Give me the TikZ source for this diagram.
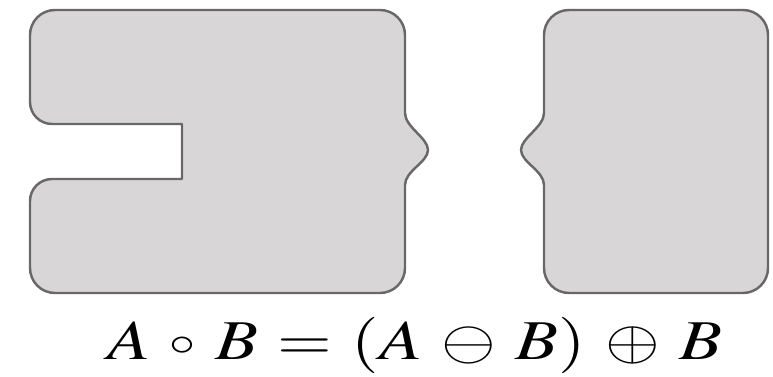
\documentclass[tikz,border=0pt]{standalone}
\usepackage{mathptmx}
\usepackage{tikz}
\usetikzlibrary{positioning}
\definecolor{platefill}{HTML}{D9D6D8}
\definecolor{plateline}{HTML}{686868}

\begin{document}
\begin{tikzpicture}[x=0.02cm, y=0.02cm, every node/.style={font=\fontsize{32}{38}\selectfont}]
\tikzstyle{plate}=[draw=plateline, fill=platefill, line width=1.4pt, line join=round]
\useasboundingbox (0,0) rectangle (773,-377);
% opened set with notch and bump
\draw[plate] (55,-10) -- (380,-10) arc[start angle=90, end angle=0, radius=25]
  -- (405,-113) .. controls (405,-127) and (428,-138) .. (428,-150)
  .. controls (428,-162) and (405,-171) .. (405,-185)
  -- (405,-268) arc[start angle=0, end angle=-90, radius=25]
  -- (55,-293) arc[start angle=270, end angle=180, radius=25]
  -- (30,-201) arc[start angle=180, end angle=90, radius=22]
  -- (182,-179) -- (182,-124) -- (52,-124) arc[start angle=270, end angle=180, radius=22]
  -- (30,-35) arc[start angle=180, end angle=90, radius=25] -- cycle;
% second piece
\draw[plate] (569,-10) -- (743,-10) arc[start angle=90, end angle=0, radius=25]
  -- (768,-268) arc[start angle=0, end angle=-90, radius=25]
  -- (569,-293) arc[start angle=270, end angle=180, radius=25]
  -- (544,-185) .. controls (544,-171) and (521,-162) .. (521,-150)
  .. controls (521,-138) and (544,-127) .. (544,-113)
  -- (544,-35) arc[start angle=180, end angle=90, radius=25] -- cycle;
\node[anchor=base, inner sep=0pt] (formula) at (415,-360)
  {\scalebox{1.25}[1]{\medmuskip=5mu \thickmuskip=5mu
   $A \mathbin{\vcenter{\hbox{$\scriptstyle\circ$}}} B = (A \ominus B) \oplus B$}};
\end{tikzpicture}
\end{document}
